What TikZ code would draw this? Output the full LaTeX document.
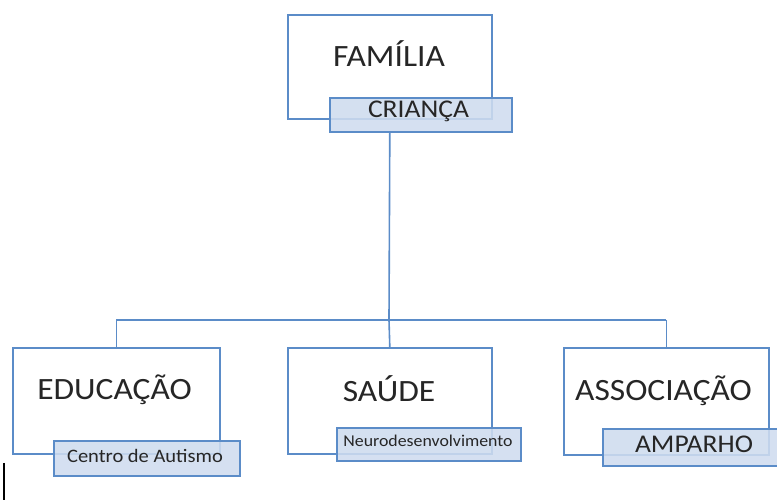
\documentclass[tikz,border=0pt]{standalone}
\usepackage{fontspec}
\setmainfont{Carlito}
\newfontfamily\wide[FakeStretch=1.08]{Carlito}
\definecolor{lineblue}{HTML}{5B8CC8}
\definecolor{fillblue}{HTML}{CFDCEF}
\begin{document}
\begin{tikzpicture}[x=1pt,y=-1pt,
  bigbox/.style={draw=lineblue,line width=1.6pt,fill=white,inner sep=0pt},
  tagbox/.style={draw=lineblue,line width=1.6pt,fill=fillblue,fill opacity=0.88,text opacity=1,inner sep=0pt},
  conn/.style={draw=lineblue,line width=1.6pt},
  bigtxt/.style={anchor=base,inner sep=0pt,text=black!85,font=\wide\fontsize{31}{34}\selectfont},
  midtxt/.style={anchor=base,inner sep=0pt,text=black!85,font=\wide\fontsize{25.5}{28}\selectfont}]
\useasboundingbox (0,0) rectangle (777,502);
% big boxes
\node[bigbox,minimum width=204pt,minimum height=104pt,anchor=north west] (familia) at (287,14) {};
\node[bigtxt] (tfam) at (389,67) {FAMÍLIA};
\node[bigbox,minimum width=207pt,minimum height=106pt,anchor=north west] (educacao) at (12,347) {};
\node[bigtxt] (tedu) at (114.5,400) {EDUCAÇÃO};
\node[bigbox,minimum width=204pt,minimum height=106pt,anchor=north west] (saude) at (287,347) {};
\node[bigtxt] (tsau) at (389,402) {SAÚDE};
\node[bigbox,minimum width=205pt,minimum height=107pt,anchor=north west] (associacao) at (563,347) {};
\node[bigtxt] (tass) at (663.5,401) {ASSOCIAÇÃO};
% tag boxes
\node[tagbox,minimum width=182pt,minimum height=34pt,anchor=north west] (crianca) at (329,97) {};
\node[midtxt] (tcri) at (418.5,118) {CRIANÇA};
\node[tagbox,minimum width=186pt,minimum height=35pt,anchor=north west] (centro) at (53,440) {};
\node[anchor=base,inner sep=0pt,text=black!85,font=\wide\fontsize{19}{21}\selectfont] (tcen) at (145,463) {Centro de Autismo};
\node[tagbox,minimum width=184pt,minimum height=33pt,anchor=north west] (neuro) at (336,427) {};
\node[anchor=base,inner sep=0pt,text=black!85,font=\wide\fontsize{16.5}{19}\selectfont] (tneu) at (428,447) {Neurodesenvolvimento};
\node[tagbox,minimum width=180pt,minimum height=37pt,anchor=north west] (amparho) at (602,428) {};
\node[midtxt] (tamp) at (694,453) {AMPARHO};
% connectors
\coordinate (bus) at (389,320);
\draw[conn] (crianca.south -| familia.south) -- (bus);
\draw[conn] (bus -| educacao.north) -- (bus -| associacao.north);
\draw[conn] (bus -| educacao.north) -- (educacao.north);
\draw[conn] (bus) -- (saude.north);
\draw[conn] (bus -| associacao.north) -- (associacao.north);
% text cursor
\draw[line width=1.2pt] (4,463) -- (4,500);
\end{tikzpicture}
\end{document}
